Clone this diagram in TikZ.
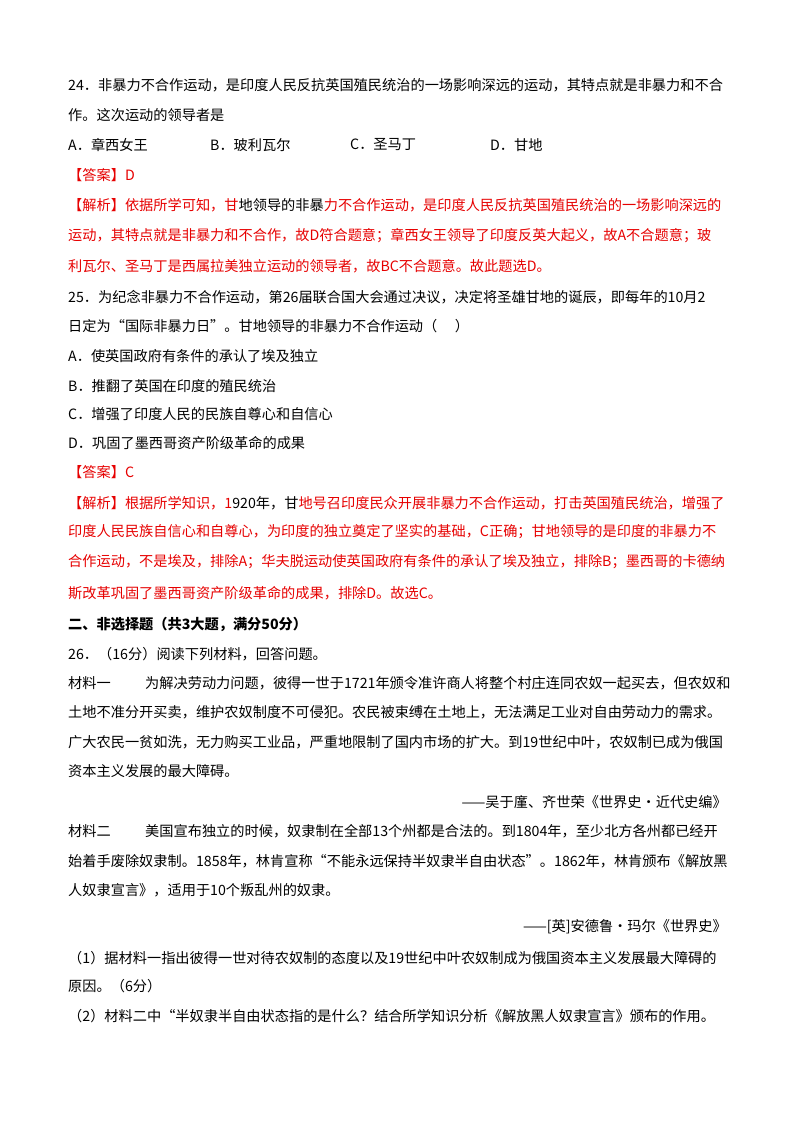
\documentclass[tikz,border=0pt]{standalone}
\usepackage{fontspec}
\setmainfont{Noto Sans CJK SC}
\definecolor{ansred}{RGB}{230,0,0}
\tikzset{
  txt/.style={anchor=west, inner sep=0pt, font=\fontsize{14.2}{16}\selectfont},
  rtxt/.style={txt, anchor=east},
  ans/.style={txt, text=ansred}
}
\begin{document}
\begin{tikzpicture}[x=1pt,y=-1pt]
  \useasboundingbox (0,0) rectangle (800,1132);
  % question 24
  \node[txt] (q24a) at (68,85) {24．非暴力不合作运动，是印度人民反抗英国殖民统治的一场影响深远的运动，其特点就是非暴力和不合};
  \node[txt] (q24b) at (68,115) {作。这次运动的领导者是};
  \node[txt] (q24A) at (68,145) {A．章西女王};
  \node[txt] (q24B) at (210,145) {B．玻利瓦尔};
  \node[txt] (q24C) at (350,145) {C．圣马丁};
  \node[txt] (q24D) at (490,145) {D．甘地};
  \node[ans] (a24) at (68,175) {【答案】D};
  \node[ans] (e24a) at (68,205) {【解析】依据所学可知，甘\textcolor{black}{地领导的非暴}力不合作运动，是印度人民反抗英国殖民统治的一场影响深远的};
  \node[ans] (e24b) at (68,236) {运动，其特点就是非暴力和不合作，故D符合题意；章西女王领导了印度反英大起义，故A不合题意；玻};
  \node[ans] (e24c) at (68,266) {利瓦尔、圣马丁是西属拉美独立运动的领导者，故BC不合题意。故此题选D。};
  % question 25
  \node[txt] (q25a) at (68,297) {25．为纪念非暴力不合作运动，第26届联合国大会通过决议，决定将圣雄甘地的诞辰，即每年的10月2};
  \node[txt] (q25b) at (68,326) {日定为“国际非暴力日”。甘地领导的非暴力不合作运动（\quad\ ）};
  \node[txt] (q25A) at (68,356) {A．使英国政府有条件的承认了埃及独立};
  \node[txt] (q25B) at (68,386) {B．推翻了英国在印度的殖民统治};
  \node[txt] (q25C) at (68,414) {C．增强了印度人民的民族自尊心和自信心};
  \node[txt] (q25D) at (68,443) {D．巩固了墨西哥资产阶级革命的成果};
  \node[ans] (a25) at (68,472) {【答案】C};
  \node[ans] (e25a) at (68,503) {【解析】根据所学知识，1\textcolor{black}{920年，甘}地号召印度民众开展非暴力不合作运动，打击英国殖民统治，增强了};
  \node[ans] (e25b) at (68,532) {印度人民民族自信心和自尊心，为印度的独立奠定了坚实的基础，C正确；甘地领导的是印度的非暴力不};
  \node[ans] (e25c) at (68,562) {合作运动，不是埃及，排除A；华夫脱运动使英国政府有条件的承认了埃及独立，排除B；墨西哥的卡德纳};
  \node[ans] (e25d) at (68,593) {斯改革巩固了墨西哥资产阶级革命的成果，排除D。故选C。};
  % part two
  \node[txt, font=\fontsize{14.2}{16}\selectfont\bfseries] (part2) at (68,624) {二、非选择题（共3大题，满分50分）};
  \node[txt] (q26) at (68,654) {26．（16分）阅读下列材料，回答问题。};
  \node[txt] (m1) at (68,683) {材料一};
  \node[txt] (m1a) at (145,683) {为解决劳动力问题，彼得一世于1721年颁令准许商人将整个村庄连同农奴一起买去，但农奴和};
  \node[txt] (m1b) at (68,712) {土地不准分开买卖，维护农奴制度不可侵犯。农民被束缚在土地上，无法满足工业对自由劳动力的需求。};
  \node[txt] (m1c) at (68,742) {广大农民一贫如洗，无力购买工业品，严重地限制了国内市场的扩大。到19世纪中叶，农奴制已成为俄国};
  \node[txt] (m1d) at (68,771) {资本主义发展的最大障碍。};
  \node[rtxt] (s1) at (727,802) {——吴于廑、齐世荣《世界史·近代史编》};
  \node[txt] (m2) at (68,831) {材料二};
  \node[txt] (m2a) at (145,831) {美国宣布独立的时候，奴隶制在全部13个州都是合法的。到1804年，至少北方各州都已经开};
  \node[txt] (m2b) at (68,861) {始着手废除奴隶制。1858年，林肯宣称“不能永远保持半奴隶半自由状态”。1862年，林肯颁布《解放黑};
  \node[txt] (m2c) at (68,890) {人奴隶宣言》，适用于10个叛乱州的奴隶。};
  \node[rtxt] (s2) at (727,927) {——[英]安德鲁·玛尔《世界史》};
  \node[txt] (p1a) at (68,958) {（1）据材料一指出彼得一世对待农奴制的态度以及19世纪中叶农奴制成为俄国资本主义发展最大障碍的};
  \node[txt] (p1b) at (68,986) {原因。（6分）};
  \node[txt] (p2) at (68,1016) {（2）材料二中“半奴隶半自由状态指的是什么？结合所学知识分析《解放黑人奴隶宣言》颁布的作用。};
\end{tikzpicture}
\end{document}
